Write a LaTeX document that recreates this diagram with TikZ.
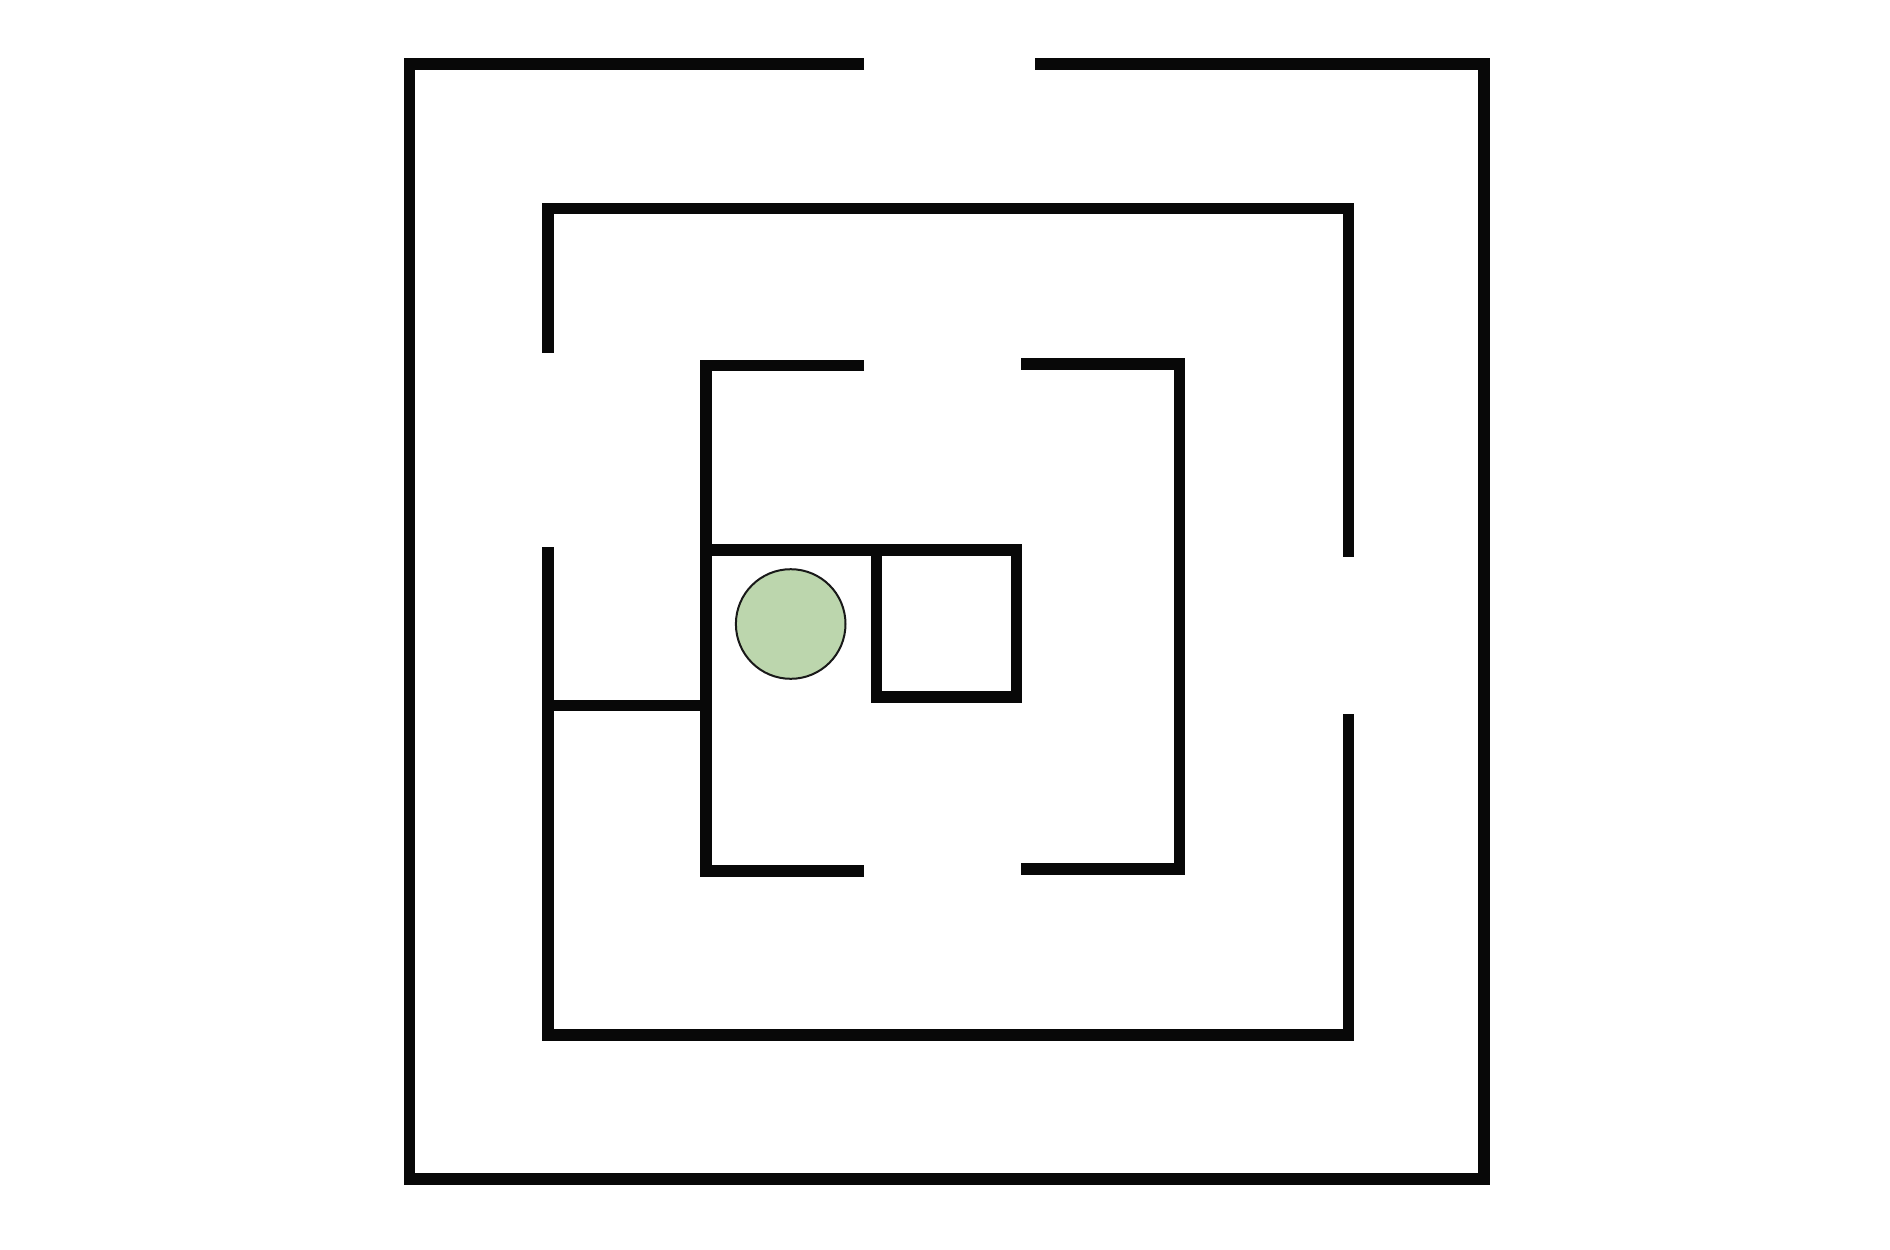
\documentclass[tikz,border=0pt]{standalone}
\begin{document}
\begin{tikzpicture}[x=1pt,y=-1pt,
  wall/.style={draw=black!97,line width=11.5pt,line cap=butt,line join=miter},
  ball/.style={circle,draw=black!90,line width=2pt,fill={rgb,255:red,188;green,214;blue,173},minimum size=109.6pt,inner sep=0pt}]
\useasboundingbox[fill=white] (0,0) rectangle (1890,1250);
% outer wall
\draw[wall] (864,64) -- (409.5,64) -- (409.5,1179) -- (1484,1179) -- (1484,64) -- (1035,64);
% second ring
\draw[wall] (548,352.7) -- (548,208.5) -- (1348.5,208.5) -- (1348.5,556.5);
\draw[wall] (548,547) -- (548,1035) -- (1348.5,1035) -- (1348.5,714);
% third ring, left part
\draw[wall] (864,365.5) -- (706,365.5) -- (706,871) -- (864,871);
% third ring, right part
\draw[wall] (1021,364) -- (1179.5,364) -- (1179.5,869) -- (1021,869);
% inner walls
\draw[wall] (706,550) -- (876.7,550);
\draw[wall] (548,705.5) -- (700.3,705.5);
\draw[wall] (876.7,550) rectangle (1016.7,697);
% ball
\node[ball] (ball) at (790.7,624) {};
\end{tikzpicture}
\end{document}
